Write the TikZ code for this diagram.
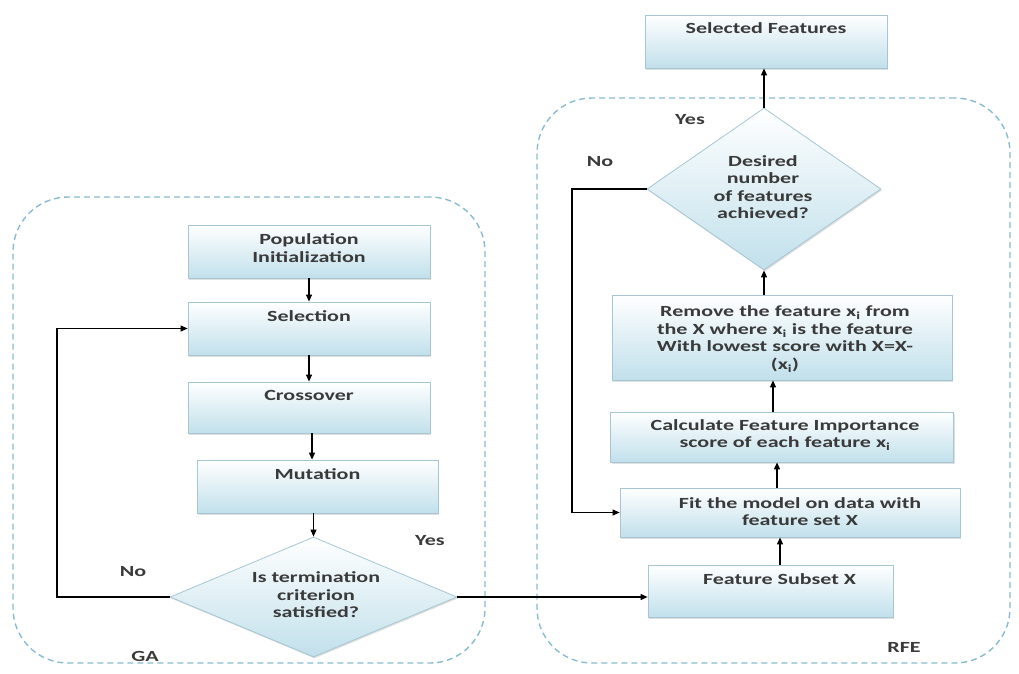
\documentclass[tikz,border=0pt]{standalone}
\usepackage{fontspec}
\setsansfont{Carlito}[FakeStretch=1.42]
\usetikzlibrary{arrows.meta,shapes.geometric,shadows}
\definecolor{boxblue}{RGB}{193,224,235}
\definecolor{boxedge}{RGB}{165,198,210}
\definecolor{dashblue}{RGB}{135,188,208}
\definecolor{txtgray}{RGB}{58,58,58}
\begin{document}
\begin{tikzpicture}[x=1pt,y=-1pt,
  box/.style={draw=boxedge, line width=0.8pt, top color=white, bottom color=boxblue,
    inner sep=0pt, drop shadow={shadow xshift=1pt,shadow yshift=-1.5pt,opacity=0.25}},
  dia/.style={box, diamond, inner sep=0pt},
  region/.style={draw=dashblue, line width=1.4pt, dash pattern=on 6pt off 4pt,
    rounded corners=55pt, inner sep=0pt},
  txt/.style={font=\sffamily\bfseries\fontsize{15.5}{17.5}\selectfont, text=txtgray,
    align=center, inner sep=0pt},
  arr/.style={-{Triangle[length=7pt,width=6pt]}, line width=1.1pt, black}
]
\useasboundingbox (0,0) rectangle (1019,673);

% regions
\node[region, minimum width=472pt, minimum height=466pt] (ga) at (249,430) {};
\node[region, minimum width=473pt, minimum height=565pt] (rfe) at (773.5,380.5) {};

% GA boxes
\node[box, minimum width=242pt, minimum height=53pt] (pop) at (309,251.5) {};
\node[txt, anchor=north] (popt) at ([yshift=-9pt]pop.north) {Population\\Initialization};
\node[box, minimum width=242pt, minimum height=53pt] (sel) at (309,328.5) {};
\node[txt, anchor=north] (selt) at ([yshift=-9pt]sel.north) {Selection};
\node[box, minimum width=242pt, minimum height=51pt] (cro) at (309,407.5) {};
\node[txt, anchor=north] (crot) at ([yshift=-9pt]cro.north) {Crossover};
\node[box, minimum width=241pt, minimum height=53pt] (mut) at (317.5,486.5) {};
\node[txt, anchor=north] (mutt) at ([yshift=-9pt]mut.north) {Mutation};
\node[dia, minimum width=287pt, minimum height=120pt] (d1) at (313.5,597) {};
\node[txt] (d1t) at (316,595) {Is termination\\criterion\\satisfied?};

% RFE boxes
\node[box, minimum width=245pt, minimum height=52pt] (fs) at (770.5,591) {};
\node[txt, anchor=north] (fst) at ([xshift=9pt,yshift=-9pt]fs.north) {Feature Subset X};
\node[box, minimum width=340pt, minimum height=49pt] (fit) at (790,512.5) {};
\node[txt] (fitt) at (800,511.5) {Fit the model on data with\\feature set X};
\node[box, minimum width=343pt, minimum height=50pt] (calc) at (782,437) {};
\node[txt] (calct) at (785,435) {Calculate Feature Importance\\score of each feature x\textsubscript{i}};
\node[box, minimum width=340pt, minimum height=85pt] (rem) at (782,337.5) {};
\node[txt] (remt) at (785,339) {Remove the feature x\textsubscript{i} from\\the X where x\textsubscript{i} is the feature\\With lowest score with X=X-\\(x\textsubscript{i})};
\node[dia, minimum width=234pt, minimum height=162pt] (d2) at (764,189) {};
\node[txt] (d2t) at (763,187) {Desired\\number\\of features\\achieved?};
\node[box, minimum width=242pt, minimum height=53pt] (self) at (766,41.5) {};
\node[txt, anchor=north] (selft) at ([yshift=-8pt]self.north) {Selected Features};

% labels
\node[txt] (yes1) at (430,541) {Yes};
\node[txt] (no1) at (133,572) {No};
\node[txt] (gal) at (145,656) {GA};
\node[txt] (yes2) at (690,120) {Yes};
\node[txt] (no2) at (600,162) {No};
\node[txt] (rfel) at (904,647) {RFE};

% helper coordinates
\coordinate (fbx) at (57,0);
\coordinate (nox) at (572,0);

% GA arrows
\draw[arr] (pop.south) -- (sel.north);
\draw[arr] (sel.south) -- (cro.north);
\draw[arr] ([xshift=3pt]cro.south) -- ([xshift=3pt]cro.south |- mut.north);
\draw[arr] (d1.north |- mut.south) -- (d1.north);
\draw[arr] (d1.west) -| (fbx |- sel.west) -- (sel.west);
\draw[arr] (d1.east) -- (d1.east -| fs.west);

% RFE arrows
\draw[arr] ([xshift=9.5pt]fs.north) -- ([xshift=9.5pt]fs.north |- fit.south);
\draw[arr] ([xshift=-13pt]fit.north) -- ([xshift=-13pt]fit.north |- calc.south);
\draw[arr] ([xshift=-9pt]calc.north) -- ([xshift=-9pt]calc.north |- rem.south);
\draw[arr] (d2.south |- rem.north) -- (d2.south);
\draw[arr] (d2.north) -- (d2.north |- self.south);
\draw[arr] (d2.west) -| (nox |- fit.west) -- (fit.west);
\end{tikzpicture}
\end{document}
